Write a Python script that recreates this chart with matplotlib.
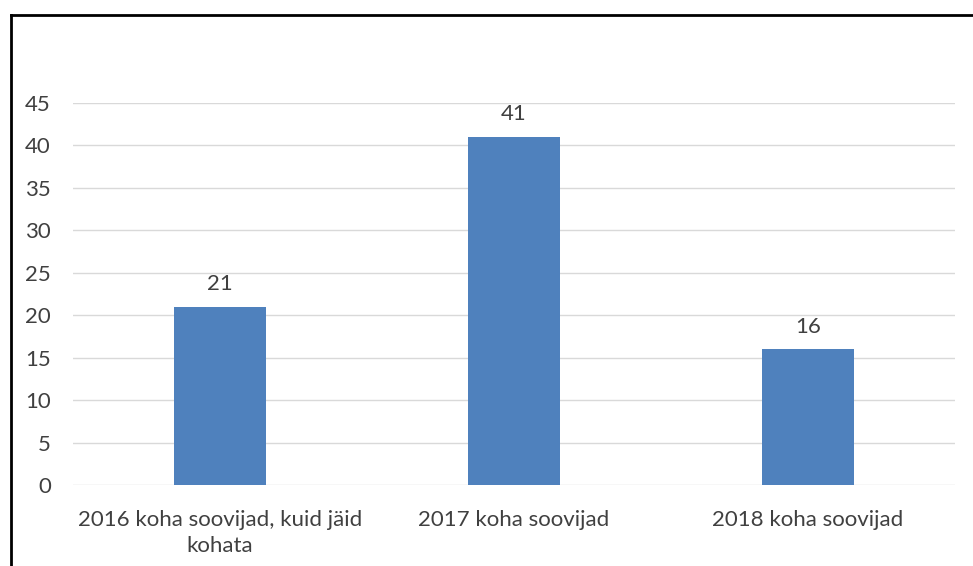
import matplotlib.pyplot as plt
from matplotlib.lines import Line2D

categories = ['2016 koha soovijad, kuid jäid\nkohata', '2017 koha soovijad', '2018 koha soovijad']
values = [21, 41, 16]
yticks = [0, 5, 10, 15, 20, 25, 30, 35, 40, 45]

plt.rcParams['font.family'] = ['Lato', 'DejaVu Sans']
text_col = '#404040'
fs = 16

W, H = 973, 566
fig = plt.figure(figsize=(W / 100, H / 100), dpi=100)
ax = fig.add_axes([73 / W, 1 - 485 / H, (955 - 73) / W, (485 - 103) / H])

x = range(len(categories))
bars = ax.bar(x, values, width=0.313, color='#4F81BD', zorder=3)
for b, v in zip(bars, values):
    ax.annotate(str(v), (b.get_x() + b.get_width() / 2, v), xytext=(0, 9),
                textcoords='offset points', ha='center', va='bottom',
                fontsize=fs, color=text_col)

ax.set_xlim(-0.5, 2.5)
ax.set_ylim(0, 45)
ax.set_yticks(yticks)
ax.set_xticks(list(x))
ax.set_xticklabels(categories, fontsize=fs, color=text_col, linespacing=1.4)
ax.tick_params(axis='y', labelsize=fs, labelcolor=text_col, length=0, pad=16)
ax.tick_params(axis='x', length=0, pad=18)
ax.grid(axis='y', color='#D9D9D9', linewidth=1, zorder=0)
for s in ax.spines.values():
    s.set_visible(False)

# outer frame (top and left edges visible)
fig.add_artist(Line2D([11 / W, 1], [1 - 15 / H, 1 - 15 / H], transform=fig.transFigure, color='black', linewidth=2))
fig.add_artist(Line2D([11 / W, 11 / W], [0, 1 - 15 / H], transform=fig.transFigure, color='black', linewidth=2))

fig.savefig('out.png', dpi=100)
